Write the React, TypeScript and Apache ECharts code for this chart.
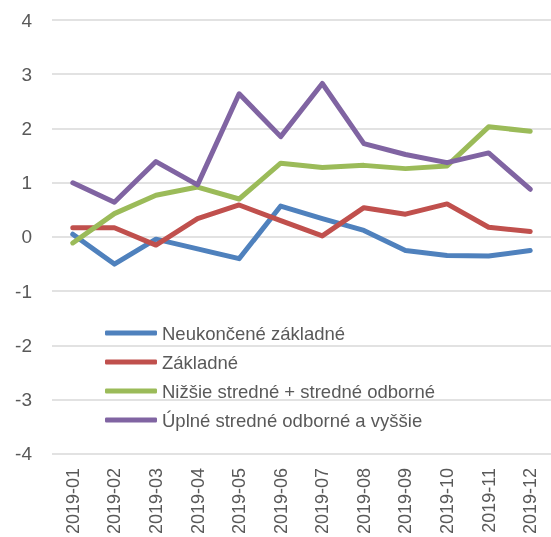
import React, { useEffect, useRef } from "react";
import * as echarts from "echarts";

const categories = ["2019-01","2019-02","2019-03","2019-04","2019-05","2019-06","2019-07","2019-08","2019-09","2019-10","2019-11","2019-12"];
const neukoncene = [0.05, -0.50, -0.04, -0.22, -0.40, 0.57, 0.34, 0.12, -0.25, -0.34, -0.35, -0.25];
const zakladne = [0.17, 0.17, -0.15, 0.34, 0.59, 0.30, 0.02, 0.54, 0.42, 0.61, 0.18, 0.10];
const nizsie = [-0.11, 0.43, 0.77, 0.92, 0.70, 1.36, 1.28, 1.32, 1.26, 1.31, 2.03, 1.95];
const uplne = [1.0, 0.64, 1.39, 0.96, 2.64, 1.85, 2.83, 1.72, 1.52, 1.37, 1.55, 0.88];
const seriesNames = ["Neukončené základné", "Základné", "Nižšie stredné + stredné odborné", "Úplné stredné odborné a vyššie"];
const seriesColors = ["#4F81BD", "#C0504D", "#9BBB59", "#8064A2"];
const yTicks = [-4, -3, -2, -1, 0, 1, 2, 3, 4];

const FONT = '"Liberation Sans", Arial, sans-serif';

export default function App() {
  const ref = useRef<HTMLDivElement>(null);
  useEffect(() => {
    if (!ref.current) return;
    const chart = echarts.init(ref.current, null, { renderer: "svg" });
    const data = [neukoncene, zakladne, nizsie, uplne];
    chart.setOption({
      animation: false,
      grid: { left: 52, top: 20, width: 506, height: 436 },
      legend: {
        orient: "vertical",
        left: 105,
        top: 323,
        padding: 0,
        itemWidth: 52,
        itemHeight: 5,
        itemGap: 9,
        icon: "roundRect",
        textStyle: { fontFamily: FONT, fontSize: 18.5, color: "#595959", lineHeight: 20 },
        data: seriesNames,
      },
      xAxis: {
        type: "category",
        data: categories,
        boundaryGap: true,
        axisLine: { show: false },
        axisTick: { show: false },
        axisLabel: { rotate: 90, margin: 14, fontFamily: FONT, fontSize: 18, color: "#595959" },
      },
      yAxis: {
        type: "value",
        min: yTicks[0],
        max: yTicks[yTicks.length - 1],
        interval: 1,
        axisLine: { show: false },
        axisTick: { show: false },
        axisLabel: { margin: 20, fontFamily: FONT, fontSize: 19, color: "#595959" },
        splitLine: { lineStyle: { color: "#D9D9D9", width: 1.5 } },
      },
      series: data.map((d, i) => ({
        name: seriesNames[i],
        type: "line",
        data: d,
        symbol: "none",
        showSymbol: false,
        color: seriesColors[i],
        lineStyle: { width: 5, color: seriesColors[i], cap: "round", join: "round" },
      })),
    });
    return () => chart.dispose();
  }, []);
  return <div ref={ref} style={{ position: "fixed", left: 0, top: 0, width: 551, height: 537 }} />;
}
